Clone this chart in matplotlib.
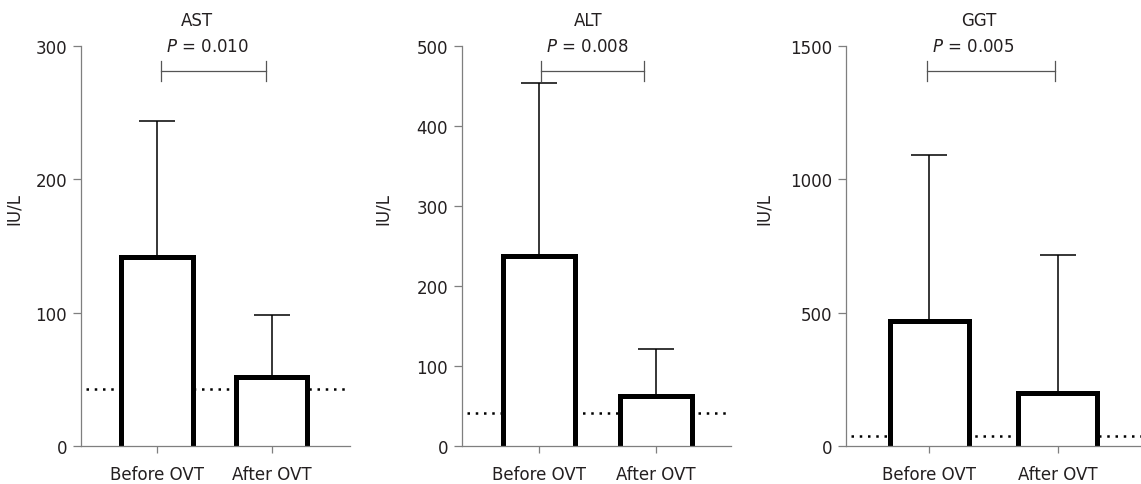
import matplotlib
matplotlib.use("Agg")
import matplotlib.pyplot as plt

## Liver enzymes before / after OVT, three panels with bars, upper SD and a normal-limit dotted line

groups = ["Before OVT", "After OVT"]
panels = ["AST", "ALT", "GGT"]
p_labels = ["0.010", "0.008", "0.005"]

ast_mean = [142, 52]
ast_top = [244, 98]
alt_mean = [238, 63]
alt_top = [454, 121]
ggt_mean = [469, 200]
ggt_top = [1090, 718]

ref_limit = [43, 41, 38]          # dotted line (upper normal limit)
bracket_y = [281, 469, 1406]
bracket_x = [[0.04, 0.95], [0.015, 0.90], [-0.02, 0.98]]

y_max = [300, 500, 1500]
y_step = [100, 100, 500]

means = [ast_mean, alt_mean, ggt_mean]
tops = [ast_top, alt_top, ggt_top]

# layout (pixels measured on the 1141x485 picture)
W, H = 1141, 485
ax_left = [81, 462, 846]
ax_width = [269, 269, 295]
xlims = [(-0.66, 1.68), (-0.66, 1.64), (-0.65, 1.65)]
title_x = [0.43, 0.47, 0.45]
ptext_x = [0.47, 0.465, 0.43]
ylabel_x = [-0.216, -0.260, -0.247]
bar_w = 0.62

text_col = "#231f20"
spine_col = "#7f7f7f"
fs = 12

fig = plt.figure(figsize=(W / 100, H / 100), dpi=100)

for i in range(3):
    ax = fig.add_axes([ax_left[i] / W, 38 / H, ax_width[i] / W, 400 / H])
    x = [0, 1]
    err = [t - m for t, m in zip(tops[i], means[i])]

    lo, hi = xlims[i]
    ax.plot([lo + 0.04, hi], [ref_limit[i]] * 2, color="black", lw=1.8,
            linestyle=(0, (1, 2.3)), zorder=1, clip_on=False)
    ax.errorbar(x, means[i], yerr=[[0, 0], err], fmt="none", ecolor="black",
                elinewidth=1.1, capsize=13, capthick=1.1, zorder=2)
    # bars: white fill, open at the bottom
    ax.bar(x, means[i], width=bar_w, color="white", edgecolor="none", zorder=3)
    for xx, m in zip(x, means[i]):
        ax.plot([xx - bar_w / 2, xx - bar_w / 2, xx + bar_w / 2, xx + bar_w / 2],
                [0, m, m, 0], color="black", lw=3.6, solid_joinstyle="miter",
                solid_capstyle="butt", zorder=4)

    # significance bracket
    bx = bracket_x[i]
    tick_h = y_max[i] * 10 / 400
    ax.plot(bx, [bracket_y[i]] * 2, color="#555555", lw=0.9, clip_on=False)
    for xx in bx:
        ax.plot([xx, xx], [bracket_y[i] - tick_h, bracket_y[i] + tick_h],
                color="#555555", lw=0.9, clip_on=False)

    ax.set_xlim(lo, hi)
    ax.set_ylim(0, y_max[i])
    ax.set_yticks(range(0, y_max[i] + 1, y_step[i]))
    ax.set_xticks(x)
    ax.set_xticklabels(groups)

    for s in ["top", "right"]:
        ax.spines[s].set_visible(False)
    for s in ["left", "bottom"]:
        ax.spines[s].set_color(spine_col)
        ax.spines[s].set_linewidth(0.9)
        ax.spines[s].set_zorder(5)
    ax.tick_params(axis="both", direction="out", length=6, width=0.9,
                   color=spine_col, labelcolor=text_col, labelsize=fs, pad=4)
    ax.tick_params(axis="x", length=5, pad=9)
    ax.set_ylabel("IU/L", fontsize=fs, color=text_col)
    ax.yaxis.set_label_coords(ylabel_x[i], 0.595)

    ax.text(title_x[i], 1.065, panels[i], transform=ax.transAxes,
            ha="center", va="center", fontsize=fs, color=text_col)
    ax.text(ptext_x[i], 1.0, r"$\it{P}$ = " + p_labels[i], transform=ax.transAxes,
            ha="center", va="center", fontsize=fs, color=text_col)

plt.savefig("out.png", dpi=100)
